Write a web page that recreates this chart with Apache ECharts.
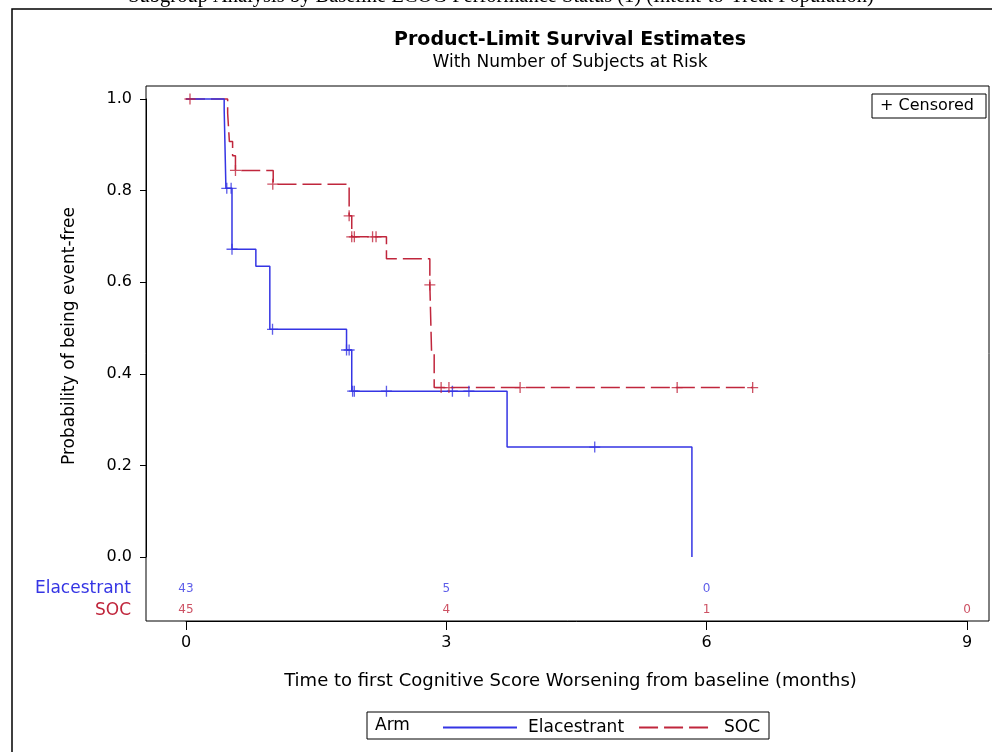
<!DOCTYPE html>
<html>
<head>
<meta charset="utf-8">
<script src="https://cdn.jsdelivr.net/npm/echarts@6/dist/echarts.min.js"></script>
<style>
  html, body { margin: 0; padding: 0; background: #fff; }
  #grafico { width: 992px; height: 752px; }
</style>
</head>
<body>
<div id="grafico"></div>
<script>
// Curvas Kaplan-Meier: [tiempo (meses), probabilidad]
const pasosElacestrant = [
    [0, 1], [0.44, 0.977], [0.46, 0.805], [0.53, 0.672], [0.805, 0.635],
    [0.966, 0.497], [1.85, 0.452], [1.91, 0.362], [3.70, 0.240], [5.83, 0]
];
const pasosSOC = [
    [0, 1], [0.48, 0.969], [0.50, 0.907], [0.537, 0.876], [0.57, 0.844],
    [1.005, 0.814], [1.88, 0.745], [1.91, 0.699], [2.31, 0.651], [2.81, 0.594],
    [2.83, 0.446], [2.86, 0.370], [6.53, 0.370]
];
// Censuras (+)
const censuraElacestrant = [
    [0.47, 0.805], [0.52, 0.805], [0.53, 0.672], [0.997, 0.497], [1.85, 0.452],
    [1.88, 0.452], [1.92, 0.362], [1.94, 0.362], [2.31, 0.362], [3.07, 0.362],
    [3.26, 0.362], [4.71, 0.240]
];
const censuraSOC = [
    [0.046, 1], [0.57, 0.844], [1.0, 0.814], [1.88, 0.745], [1.91, 0.699],
    [1.94, 0.699], [2.15, 0.699], [2.19, 0.699], [2.81, 0.594], [2.94, 0.370],
    [3.03, 0.370], [3.85, 0.370], [5.66, 0.370], [6.53, 0.370]
];
// Número de sujetos en riesgo
const tiemposRiesgo = [0, 3, 6, 9];
const riesgoElacestrant = [43, 5, 0];
const riesgoSOC = [45, 4, 1, 0];
const brazos = ['Elacestrant', 'SOC'];

const AZUL = '#3535e4';
const ROJO = '#c0263c';
const FUENTE = '"DejaVu Sans", sans-serif';
const cruz = 'path://M4.4,0H5.6V10H4.4ZM0,4.4H10V5.6H0Z';

const grafico = echarts.init(document.getElementById('grafico'));

function filasRiesgo(valores, brazo) {
    return valores.map((v, i) => [tiemposRiesgo[i], brazo, v]);
}

const opciones = {
    animation: false,
    textStyle: { fontFamily: FUENTE },
    grid: [
        // 0: curvas
        { left: 186, right: 25, top: 99, bottom: 195 },
        // 1: tabla de sujetos en riesgo (su eje X es el eje de tiempo visible)
        { left: 186, right: 25, top: 578, bottom: 131 },
        // 2: solo para el eje Y visible, pegado al marco
        { left: 146, width: 40, top: 99, bottom: 195 }
    ],
    xAxis: [
        { gridIndex: 0, type: 'value', min: 0, max: 9, show: false },
        {
            gridIndex: 1, type: 'value', min: 0, max: 9, interval: 3,
            axisLine: { show: true, lineStyle: { color: '#000', width: 1 } },
            axisTick: { show: true, length: 9, lineStyle: { color: '#000', width: 1 } },
            axisLabel: { color: '#000', fontSize: 16, margin: 14 },
            splitLine: { show: false },
            name: 'Time to first Cognitive Score Worsening from baseline (months)',
            nameLocation: 'middle', nameGap: 51,
            nameTextStyle: { color: '#000', fontSize: 18, padding: [0, 12, 0, 0] }
        },
        { gridIndex: 2, type: 'category', data: [''], show: false }
    ],
    yAxis: [
        { gridIndex: 0, type: 'value', min: 0, max: 1, show: false },
        {
            gridIndex: 1, type: 'category', data: brazos, inverse: true,
            axisLine: { show: false }, axisTick: { show: false },
            axisLabel: {
                fontSize: 17, margin: 55, interval: 0, hideOverlap: false,
                color: (valor) => valor === 'SOC' ? ROJO : AZUL
            }
        },
        {
            gridIndex: 2, type: 'value', min: 0, max: 1, interval: 0.2,
            axisLine: { show: true, lineStyle: { color: '#000', width: 1 } },
            axisTick: { show: true, length: 6, lineStyle: { color: '#000', width: 1 } },
            axisLabel: { color: '#000', fontSize: 16, margin: 14, formatter: v => v.toFixed(1) },
            splitLine: { show: false }
        }
    ],
    legend: {
        data: brazos,
        left: 442, top: 719, padding: 0,
        itemWidth: 74, itemHeight: 2, itemGap: 14,
        itemStyle: { opacity: 0 },
        textStyle: { color: '#000', fontSize: 17, fontFamily: FUENTE, padding: [0, 0, 0, 6] }
    },
    graphic: [
        // marco exterior
        { type: 'rect', shape: { x: 12, y: 9, width: 1000, height: 800 },
          style: { fill: 'none', stroke: '#000', lineWidth: 1.5 } },
        // título superior cortado
        { type: 'text', x: 501, y: 7,
          style: { text: 'Subgroup Analysis by Baseline ECOG Performance Status (1) (Intent-to-Treat Population)',
                   font: '20.5px "Liberation Serif", "Times New Roman", serif', fill: '#000',
                   textAlign: 'center', textVerticalAlign: 'bottom' } },
        { type: 'text', x: 570, y: 40,
          style: { text: 'Product-Limit Survival Estimates', font: 'bold 19px ' + FUENTE,
                   fill: '#000', textAlign: 'center', textVerticalAlign: 'middle' } },
        { type: 'text', x: 570, y: 63,
          style: { text: 'With Number of Subjects at Risk', font: '17px ' + FUENTE,
                   fill: '#000', textAlign: 'center', textVerticalAlign: 'middle' } },
        // título del eje Y, centrado en el rango 0–1
        { type: 'text', x: 70, y: 336, rotation: Math.PI / 2,
          style: { text: 'Probability of being event-free', font: '17px ' + FUENTE,
                   fill: '#000', textAlign: 'center', textVerticalAlign: 'middle' } },
        // marco del área del gráfico (incluye la tabla de riesgo)
        { type: 'rect', shape: { x: 146, y: 86, width: 843, height: 535 },
          style: { fill: 'none', stroke: '#000', lineWidth: 1 } },
        // leyenda de censura
        { type: 'rect', shape: { x: 872, y: 94, width: 114, height: 24 },
          style: { fill: '#fff', stroke: '#000', lineWidth: 1 } },
        { type: 'text', x: 880, y: 106,
          style: { text: '+ Censored', font: '16px ' + FUENTE, fill: '#000',
                   textVerticalAlign: 'middle' } },
        // caja de la leyenda inferior
        { type: 'rect', shape: { x: 367, y: 712, width: 402, height: 27 },
          style: { fill: 'none', stroke: '#000', lineWidth: 1 } },
        { type: 'text', x: 375, y: 726,
          style: { text: 'Arm', font: '17px ' + FUENTE, fill: '#000',
                   textVerticalAlign: 'middle' } }
    ],
    series: [
        {
            name: 'Elacestrant', type: 'line', step: 'end', clip: false,
            data: pasosElacestrant, showSymbol: false, symbol: 'none',
            lineStyle: { color: AZUL, width: 1.5 }, itemStyle: { color: AZUL },
            z: 3
        },
        {
            name: 'SOC', type: 'line', step: 'end', clip: false,
            data: pasosSOC, showSymbol: false, symbol: 'none',
            lineStyle: { color: ROJO, width: 1.5, type: [19, 6] }, itemStyle: { color: ROJO },
            z: 2
        },
        {
            name: 'censuraElacestrant', type: 'scatter', data: censuraElacestrant,
            symbol: cruz, symbolSize: 11, itemStyle: { color: AZUL }, z: 4
        },
        {
            name: 'censuraSOC', type: 'scatter', data: censuraSOC,
            symbol: cruz, symbolSize: 11, itemStyle: { color: ROJO }, z: 4
        },
        {
            name: 'riesgoElacestrant', type: 'scatter', xAxisIndex: 1, yAxisIndex: 1,
            data: filasRiesgo(riesgoElacestrant, 'Elacestrant'), symbolSize: 0,
            label: { show: true, position: 'inside', formatter: p => p.value[2],
                     color: AZUL, fontSize: 12 }
        },
        {
            name: 'riesgoSOC', type: 'scatter', xAxisIndex: 1, yAxisIndex: 1,
            data: filasRiesgo(riesgoSOC, 'SOC'), symbolSize: 0,
            label: { show: true, position: 'inside', formatter: p => p.value[2],
                     color: ROJO, fontSize: 12 }
        }
    ]
};

grafico.setOption(opciones);
</script>
</body>
</html>
